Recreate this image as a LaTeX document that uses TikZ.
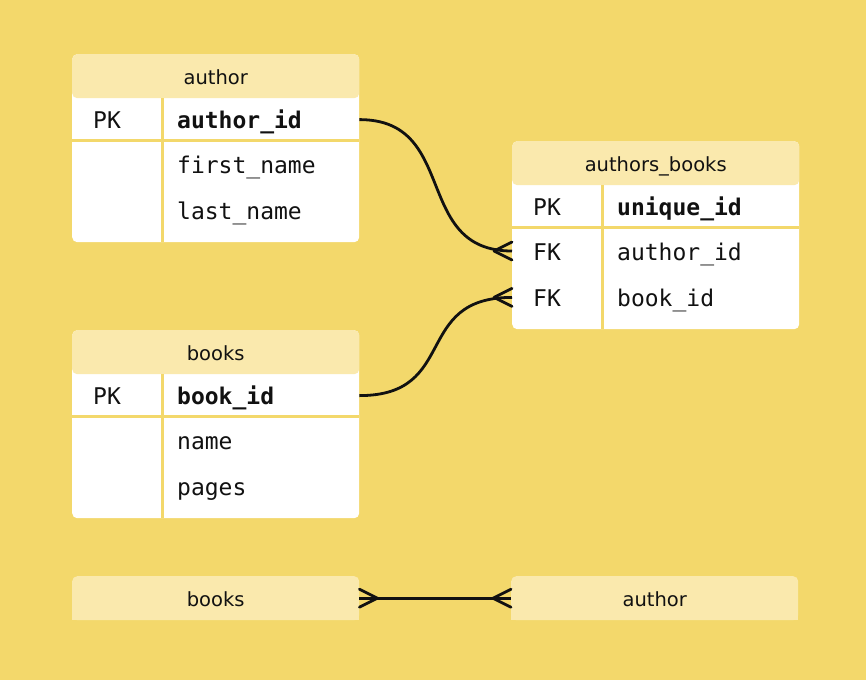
\documentclass[tikz,border=0pt]{standalone}
\usepackage{fontspec}
\setmainfont{DejaVu Sans}
\newfontfamily\codefont{DejaVu Sans Mono}
\usetikzlibrary{positioning}

\definecolor{bgyellow}{HTML}{F3D86B}
\definecolor{headyellow}{HTML}{FAE9AD}
\definecolor{ink}{HTML}{111111}

\begin{document}
\begin{tikzpicture}[x=1pt, y=-1pt,
    tablebody/.style={fill=white, rounded corners=5pt, minimum width=287pt, minimum height=188pt, inner sep=0pt, anchor=north west},
    tablehead/.style={fill=headyellow, rounded corners=5pt, minimum width=287pt, minimum height=44pt, inner sep=0pt, anchor=north west, text=ink, text height=16pt, text depth=0pt, font=\fontsize{19.5}{20}\selectfont},
    row/.style={minimum width=287pt, minimum height=46pt, inner sep=0pt},
    keyrow/.style={row, minimum height=42pt},
    col/.style={text=ink, inner sep=0pt, text height=18pt, text depth=0pt, font=\codefont\fontsize{23}{23}\selectfont},
    pkcol/.style={col, font=\codefont\bfseries\fontsize{23}{23}\selectfont},
    divider/.style={draw=bgyellow, line width=3pt},
    link/.style={draw=ink, line width=2.8pt},
    foot/.style={link, line cap=round, line join=round}]

  \useasboundingbox (0,0) rectangle (866,680);
  \fill[bgyellow] (0,0) rectangle (866,680);

  % author
  \node[tablebody] (authorBody) at (72,54) {};
  \node[tablehead] (authorHead) at (72,54) {author};
  \node[keyrow, below=0pt of authorHead] (authorPK) {};
  \node[row, below=0pt of authorPK] (authorFirst) {};
  \node[row, below=0pt of authorFirst] (authorLast) {};
  \draw[divider] (authorPK.south west) -- (authorPK.south east);
  \draw[divider] ([xshift=90.5pt]authorHead.south west) -- ([xshift=90.5pt]authorBody.south west);
  \node[col, right=21pt of authorPK.west] (authorPKkey) {PK};
  \node[pkcol, right=105pt of authorPK.west] (authorIdTxt) {author\_id};
  \node[col, right=105pt of authorFirst.west] (authorFirstTxt) {first\_name};
  \node[col, right=105pt of authorLast.west] (authorLastTxt) {last\_name};

  % authors_books
  \node[tablebody] (abBody) at (512,141) {};
  \node[tablehead] (abHead) at (512,141) {authors\_books};
  \node[keyrow, below=0pt of abHead] (abPK) {};
  \node[row, below=0pt of abPK] (abFK1) {};
  \node[row, below=0pt of abFK1] (abFK2) {};
  \draw[divider] (abPK.south west) -- (abPK.south east);
  \draw[divider] ([xshift=90.5pt]abHead.south west) -- ([xshift=90.5pt]abBody.south west);
  \node[col, right=21pt of abPK.west] (abPKkey) {PK};
  \node[pkcol, right=105pt of abPK.west] (abIdTxt) {unique\_id};
  \node[col, right=21pt of abFK1.west] (abFK1key) {FK};
  \node[col, right=105pt of abFK1.west] (abAuthorTxt) {author\_id};
  \node[col, right=21pt of abFK2.west] (abFK2key) {FK};
  \node[col, right=105pt of abFK2.west] (abBookTxt) {book\_id};

  % books
  \node[tablebody] (booksBody) at (72,330) {};
  \node[tablehead] (booksHead) at (72,330) {books};
  \node[keyrow, below=0pt of booksHead] (booksPK) {};
  \node[row, below=0pt of booksPK] (booksName) {};
  \node[row, below=0pt of booksName] (booksPages) {};
  \draw[divider] (booksPK.south west) -- (booksPK.south east);
  \draw[divider] ([xshift=90.5pt]booksHead.south west) -- ([xshift=90.5pt]booksBody.south west);
  \node[col, right=21pt of booksPK.west] (booksPKkey) {PK};
  \node[pkcol, right=105pt of booksPK.west] (booksIdTxt) {book\_id};
  \node[col, right=105pt of booksName.west] (booksNameTxt) {name};
  \node[col, right=105pt of booksPages.west] (booksPagesTxt) {pages};

  % many-to-many bar
  \fill[headyellow] (72,600) rectangle (359,620);
  \fill[headyellow] (511,600) rectangle (798,620);
  \node[tablehead] (booksBar) at (72,576) {books};
  \node[tablehead] (authorBar) at (511,576) {author};

  \draw[link] (authorPK.east) .. controls +(100,0) and +(-100,0) .. (abFK1.west);
  \draw[link] (booksPK.east) .. controls +(100,0) and +(-100,0) .. (abFK2.west);
  \draw[link] (booksBar.east) -- (authorBar.west);

  % crow's feet
  \foreach \p/\d in {abFK1.west/-1, abFK2.west/-1, booksBar.east/1, authorBar.west/-1}
    \draw[foot] (\p) ++(18*\d,0) -- ++(-18*\d,-9) ++(0,18) -- ++(18*\d,-9);
\end{tikzpicture}
\end{document}
